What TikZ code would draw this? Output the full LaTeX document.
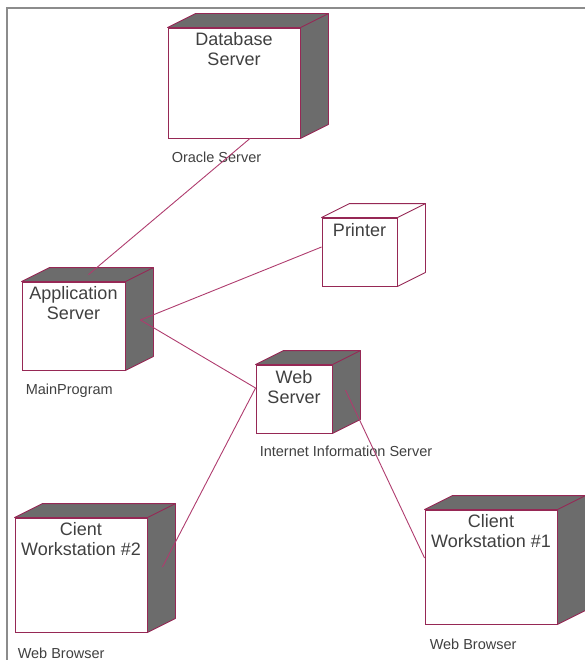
\documentclass[tikz,border=0pt]{standalone}
\usepackage{fontspec}
\setmainfont{Liberation Sans}
\usetikzlibrary{positioning,calc}

\definecolor{devedge}{RGB}{150,40,85}
\definecolor{sidegray}{RGB}{108,108,108}
\definecolor{linkpink}{RGB}{175,60,110}
\definecolor{framegray}{RGB}{140,140,140}

\tikzset{
    device/.style={
        draw=devedge,
        fill=white,
        line width=0.9pt,
        inner sep=0pt,
        append after command={
            \pgfextra{
                \filldraw[draw=devedge, fill=#1, line width=0.9pt, line join=round]
                    (\tikzlastnode.north west) -- ++(28,-14)
                    -- ([shift={(28,-14)}]\tikzlastnode.north east)
                    -- ([shift={(28,-14)}]\tikzlastnode.south east)
                    -- (\tikzlastnode.south east)
                    -- (\tikzlastnode.north east) -- cycle;
                \draw[devedge, line width=0.9pt]
                    (\tikzlastnode.north east) -- ++(28,-14);
            }
        }
    },
    device/.default=sidegray,
    title/.style={
        align=center,
        inner sep=0pt,
        text=black!75,
        font=\fontsize{18bp}{20bp}\selectfont
    },
    caption/.style={
        inner sep=0pt,
        text=black!75,
        font=\fontsize{14.5bp}{16bp}\selectfont
    },
    link/.style={draw=linkpink, line width=0.9pt}
}

\begin{document}
\begin{tikzpicture}[x=1bp, y=-1bp]
    \useasboundingbox (0,0) rectangle (585,660);
    \draw[framegray, line width=1.6bp] (7,660) -- (7,8) -- (585,8);

    % the devices
    \path
        node[device, minimum width=132bp, minimum height=110bp] at (234,83) (db) {}
        node[device, minimum width=103bp, minimum height=88bp] at (73.5,326) (app) {}
        node[device=white, minimum width=75bp, minimum height=68bp] at (359.5,252) (printer) {}
        node[device, minimum width=76bp, minimum height=68bp] at (294,399) (web) {}
        node[device, minimum width=132bp, minimum height=114bp] at (81,575) (ws2) {}
        node[device, minimum width=132bp, minimum height=114bp] at (491,567) (ws1) {};

    % names inside the boxes
    \path
        node[title, below=5bp of db.north] (dbname) {Database\\Server}
        node[title, below=5bp of app.north] (appname) {Application\\Server}
        node[title, below=6bp of printer.north] (printername) {Printer}
        node[title, below=6bp of web.north] (webname) {Web\\Server}
        node[title, below=5bp of ws2.north] (ws2name) {Cient\\Workstation \#2}
        node[title, below=5bp of ws1.north] (ws1name) {Client\\Workstation \#1};

    % processes under the boxes
    \path
        node[caption, below right=13bp and 4bp of db.south west] (dbproc) {Oracle Server}
        node[caption, below right=13bp and 4bp of app.south west] (appproc) {MainProgram}
        node[caption, below right=12bp and 4bp of web.south west] (webproc) {Internet Information Server}
        node[caption, below right=15bp and 3bp of ws2.south west] (ws2proc) {Web Browser}
        node[caption, below right=14bp and 5bp of ws1.south west] (ws1proc) {Web Browser};

    % connection ends
    \coordinate (dbport) at ($(db.south)+(16,0)$);
    \coordinate (apptop) at ($(app.north)+(15,-7)$);
    \coordinate (appport) at ($(app.east)+(15,-6)$);
    \coordinate (printerport) at ($(printer.west)+(0,-5)$);
    \coordinate (webin) at ($(web.west)+(0,-11)$);
    \coordinate (webport) at ($(web.east)+(13,-9)$);
    \coordinate (ws2port) at ($(ws2.east)+(15,-8)$);
    \coordinate (ws1port) at ($(ws1.west)+(0,-9)$);

    \path[link]
        (dbport) edge (apptop)
        (appport) edge (printerport)
        (appport) edge (webin)
        (webin) edge (ws2port)
        (webport) edge (ws1port);
\end{tikzpicture}
\end{document}
